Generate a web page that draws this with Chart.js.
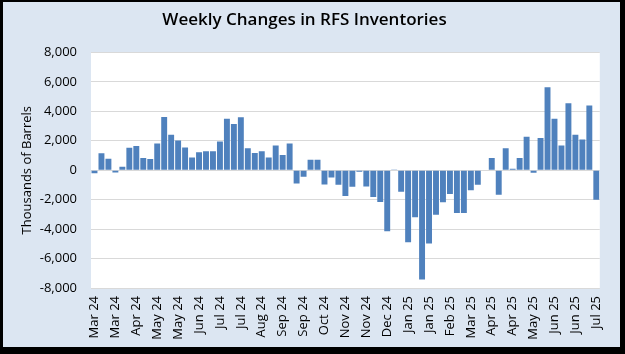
<!DOCTYPE html>
<html>
<head>
<meta charset="utf-8">
<script src="https://cdn.jsdelivr.net/npm/chart.js@4"></script>
<style>
  body { margin: 0; background: #000; width: 625px; height: 354px; overflow: hidden; }
  #box { position: absolute; left: 3px; top: 2px; width: 617px; height: 345px; background: #dce6f2; }
</style>
</head>
<body>
<div id="box"><canvas id="chart" width="617" height="345"></canvas></div>
<script>
// Tick labels, one every 3 weeks
var tickLabels = ["Mar 24", "Mar 24", "Apr 24", "May 24", "May 24", "Jun 24", "Jul 24", "Jul 24",
    "Aug 24", "Sep 24", "Sep 24", "Oct 24", "Nov 24", "Nov 24", "Dec 24", "Jan 25", "Jan 25",
    "Feb 25", "Mar 25", "Apr 25", "Apr 25", "May 25", "Jun 25", "Jun 25", "Jul 25"];

// Weekly change, thousands of barrels
var changes = [-200, 1150, 780, -150, 230, 1520, 1650, 830, 760, 1820,
    3610, 2410, 2020, 1540, 870, 1220, 1290, 1290, 1950, 3490,
    3130, 3590, 1490, 1170, 1290, 870, 1680, 1030, 1820, -900,
    -440, 710, 710, -970, -500, -990, -1750, -1130, -100, -1100,
    -1820, -2160, -4140, 50, -1470, -4900, -3200, -7430, -4970, -3030,
    -2180, -1610, -2900, -2900, -1360, -990, 0, 830, -1660, 1490,
    90, 830, 2280, -180, 2180, 5630, 3490, 1680, 4550, 2410,
    2090, 4390, -2000];

// category per week, label only every 3rd
var labels = changes.map((v, i) => i % 3 === 0 ? tickLabels[i / 3] : "");

var FONT = "'Open Sans', sans-serif";

// white plot area
const plotBg = {
    id: "plotBg",
    beforeDraw(chart) {
        const { ctx, chartArea } = chart;
        ctx.save();
        ctx.fillStyle = "#ffffff";
        ctx.fillRect(chartArea.left, chartArea.top, chartArea.right - chartArea.left, chartArea.bottom - chartArea.top);
        ctx.restore();
    }
};

const ctx = document.getElementById("chart").getContext("2d");
const myChart = new Chart(ctx, {
    type: "bar",
    data: {
        labels: labels,
        datasets: [{
            label: "Weekly Change",
            data: changes,
            backgroundColor: "#4f81bd",
            borderWidth: 0,
            barPercentage: 0.85,
            categoryPercentage: 1.0
        }]
    },
    options: {
        responsive: false,
        animation: false,
        layout: { padding: { left: 0, right: 14, top: 0, bottom: 0 } },
        plugins: {
            legend: { display: false },
            tooltip: { enabled: false },
            title: {
                display: true,
                text: "Weekly Changes in RFS Inventories",
                color: "#000",
                font: { family: FONT, size: 17, weight: 600 },
                padding: { top: 8, bottom: 22 }
            }
        },
        scales: {
            x: {
                grid: { display: false, drawTicks: false },
                border: { display: false },
                ticks: {
                    autoSkip: false,
                    minRotation: 90,
                    maxRotation: 90,
                    padding: 8,
                    color: "#000",
                    font: { family: FONT, size: 13 }
                },
                afterFit(scale) { scale.height = 59; }
            },
            y: {
                min: -8000,
                max: 8000,
                grid: { color: "#d9d9d9", drawTicks: false },
                border: { display: false },
                ticks: {
                    stepSize: 2000,
                    padding: 14,
                    color: "#000",
                    font: { family: FONT, size: 13 },
                    callback: v => v.toLocaleString("en-US")
                },
                title: {
                    display: true,
                    text: "Thousands of Barrels",
                    color: "#000",
                    font: { family: FONT, size: 13 },
                    padding: { top: 16, bottom: 0 }
                },
                afterFit(scale) { scale.width = 88; }
            }
        }
    },
    plugins: [plotBg]
});
</script>
</body>
</html>
